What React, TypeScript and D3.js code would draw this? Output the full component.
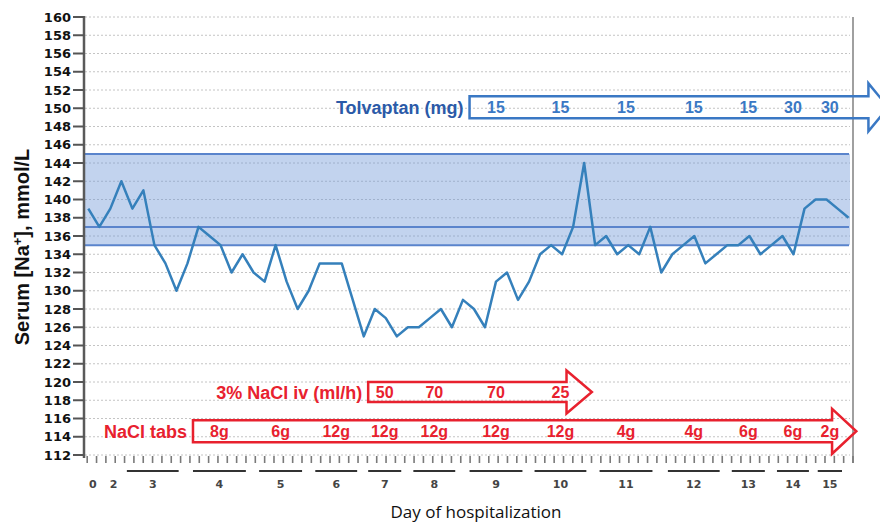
import * as d3 from "d3";
import React, { useEffect, useRef } from "react";

// serum sodium, one reading per sample (mmol/L)
const sodium = [
  139, 137, 139, 142, 139, 141, 135, 133, 130, 133,
  137, 136, 135, 132, 134, 132, 131, 135, 131, 128,
  130, 133, 133, 133, 129, 125, 128, 127, 125, 126,
  126, 127, 128, 126, 129, 128, 126, 131, 132, 129,
  131, 134, 135, 134, 137, 144, 135, 136, 134, 135,
  134, 137, 132, 134, 135, 136, 133, 134, 135, 135,
  136, 134, 135, 136, 134, 139, 140, 140, 139, 138,
];

// day groups, in sample index units
const dayLabels = ["0", "2", "3", "4", "5", "6", "7", "8", "9", "10", "11", "12", "13", "14", "15"];
const dayStart = [0.4, 2.3, 3.5, 9.5, 15.5, 20.6, 25.4, 29.5, 34.6, 40.5, 46.4, 52.6, 58.4, 62.5, 66.2];
const dayEnd = [0.4, 2.3, 8.2, 14.3, 19.4, 24.4, 28.4, 33.3, 39.4, 45.2, 51.2, 57.3, 61.4, 65.4, 68.4];

const yTicks = d3.range(112, 161, 2);
const normalLow = 135;
const normalHigh = 145;
const normalMid = 137;

const tolvaptanDays = ["9", "10", "11", "12", "13", "14", "15"];
const tolvaptanDoses = ["15", "15", "15", "15", "15", "30", "30"];
const ivDays = ["7", "8", "9", "10"];
const ivRates = ["50", "70", "70", "25"];
const tabsDays = ["4", "5", "6", "7", "8", "9", "10", "11", "12", "13", "14", "15"];
const tabsDoses = ["8g", "6g", "12g", "12g", "12g", "12g", "12g", "4g", "4g", "6g", "6g", "2g"];

const BLUE = "#3a78c4";
const NAVY = "#2b5aa8";
const RED = "#e8212e";
const ARIAL = "'Liberation Sans', Arial, sans-serif";
const WIDE = "'DejaVu Sans', sans-serif";

const plot = (el: SVGSVGElement) => {
  const svg = d3.select(el);
  svg.selectAll("*").remove();

  const left = 85;
  const right = 853;
  const top = 17;
  const bottom = 455;

  const x = d3.scaleLinear().domain([-0.3, 69.4]).range([left, right]);
  const y = d3.scaleLinear().domain([112, 160]).range([bottom, top]);

  const dayCenter = (d: string) => {
    const i = dayLabels.indexOf(d);
    return x((dayStart[i] + dayEnd[i]) / 2);
  };

  // grid
  svg.append("g")
    .selectAll("line")
    .data(yTicks)
    .join("line")
    .attr("x1", left)
    .attr("x2", 850)
    .attr("y1", (d) => y(d))
    .attr("y2", (d) => y(d))
    .attr("stroke", "#c4c4c4")
    .attr("stroke-width", 1)
    .attr("stroke-dasharray", "2,2");

  // normal range band
  svg.append("rect")
    .attr("x", left)
    .attr("width", 850 - left)
    .attr("y", y(normalHigh))
    .attr("height", y(normalLow) - y(normalHigh))
    .attr("fill", "rgba(110,150,215,0.42)");

  svg.append("g")
    .selectAll("line")
    .data([normalHigh, normalMid, normalLow])
    .join("line")
    .attr("x1", left)
    .attr("x2", 849)
    .attr("y1", (d) => y(d))
    .attr("y2", (d) => y(d))
    .attr("stroke", "#5a84cc")
    .attr("stroke-width", 2);

  // right border
  svg.append("line")
    .attr("x1", right).attr("x2", right)
    .attr("y1", top).attr("y2", 463)
    .attr("stroke", "#a0a0a0")
    .attr("stroke-width", 2);

  // sodium line
  const line = d3.line<number>()
    .x((_, i) => x(i))
    .y((d) => y(d));

  svg.append("path")
    .attr("d", line(sodium))
    .attr("fill", "none")
    .attr("stroke", "#3580bb")
    .attr("stroke-width", 2.5)
    .attr("stroke-linejoin", "round");

  // y axis
  svg.append("line")
    .attr("x1", 84).attr("x2", 84)
    .attr("y1", top - 1).attr("y2", bottom + 3)
    .attr("stroke", "#5a5a5a")
    .attr("stroke-width", 2.5);

  const yAxis = svg.append("g");
  yAxis.selectAll("line")
    .data(yTicks)
    .join("line")
    .attr("x1", 73)
    .attr("x2", 84)
    .attr("y1", (d) => y(d))
    .attr("y2", (d) => y(d))
    .attr("stroke", "#555")
    .attr("stroke-width", 2);
  yAxis.selectAll("text")
    .data(yTicks)
    .join("text")
    .attr("x", 71)
    .attr("y", (d) => y(d))
    .attr("dy", "0.36em")
    .attr("text-anchor", "end")
    .attr("font-family", WIDE)
    .attr("font-weight", "bold")
    .attr("font-size", 13)
    .attr("fill", "#111")
    .text((d) => d);

  svg.append("text")
    .attr("transform", `translate(29,247) rotate(-90)`)
    .attr("text-anchor", "middle")
    .attr("font-family", ARIAL)
    .attr("font-weight", "bold")
    .attr("font-size", 20)
    .attr("fill", "#111")
    .text("Serum [Na")
    .call((t) => {
      t.append("tspan").attr("dy", -7).attr("font-size", 13).text("+");
      t.append("tspan").attr("dy", 7).text("], mmol/L");
    });

  // x minor ticks
  const tickStep = 69.5 / 82;
  svg.append("g")
    .selectAll("line")
    .data(d3.range(0, 83).map((k) => -0.1 + k * tickStep))
    .join("line")
    .attr("x1", (d) => x(d))
    .attr("x2", (d) => x(d))
    .attr("y1", 456)
    .attr("y2", 463)
    .attr("stroke", "#7a7a7a")
    .attr("stroke-width", 1.6);

  // day underlines and labels
  svg.append("g")
    .selectAll("line")
    .data(dayLabels.filter((_, i) => dayEnd[i] > dayStart[i]))
    .join("line")
    .attr("x1", (d) => x(dayStart[dayLabels.indexOf(d)]))
    .attr("x2", (d) => x(dayEnd[dayLabels.indexOf(d)]))
    .attr("y1", 471)
    .attr("y2", 471)
    .attr("stroke", "#333")
    .attr("stroke-width", 2);

  svg.append("g")
    .selectAll("text")
    .data(dayLabels)
    .join("text")
    .attr("x", (d) => dayCenter(d))
    .attr("y", 488)
    .attr("text-anchor", "middle")
    .attr("font-family", WIDE)
    .attr("font-weight", "bold")
    .attr("font-size", 11)
    .attr("fill", "#444")
    .text((d) => d);

  svg.append("text")
    .attr("x", 476)
    .attr("y", 518)
    .attr("text-anchor", "middle")
    .attr("font-family", "'Open Sans', sans-serif")
    .attr("font-size", 17)
    .attr("fill", "#111")
    .text("Day of hospitalization");

  // treatment arrows
  const arrow = d3.line();
  const drawArrow = (
    label: string, days: string[], values: string[], color: string, labelColor: string,
    level: number, headAt: number, tipAt: number, bodyHalf: number, headHalf: number,
  ) => {
    const cy = y(level);
    const x0 = x(dayStart[dayLabels.indexOf(days[0])]);
    const xb = x(headAt);
    const xt = x(tipAt);
    const g = svg.append("g");
    g.append("path")
      .attr("d", arrow([
        [x0, cy - bodyHalf], [xb, cy - bodyHalf], [xb, cy - headHalf], [xt, cy],
        [xb, cy + headHalf], [xb, cy + bodyHalf], [x0, cy + bodyHalf],
      ]) + "Z")
      .attr("fill", "none")
      .attr("stroke", color)
      .attr("stroke-width", 2.5)
      .attr("stroke-linejoin", "miter");
    g.append("text")
      .attr("x", x0 - 6)
      .attr("y", cy)
      .attr("dy", "0.36em")
      .attr("text-anchor", "end")
      .attr("font-family", ARIAL)
      .attr("font-weight", "bold")
      .attr("font-size", 18)
      .attr("fill", labelColor)
      .text(label);
    g.selectAll("text.v")
      .data(values)
      .join("text")
      .attr("class", "v")
      .attr("x", (_, i) => dayCenter(days[i]))
      .attr("y", cy)
      .attr("dy", "0.36em")
      .attr("text-anchor", "middle")
      .attr("font-family", ARIAL)
      .attr("font-weight", "bold")
      .attr("font-size", 16)
      .attr("fill", color)
      .text((d) => d);
  };

  drawArrow("Tolvaptan (mg)", tolvaptanDays, tolvaptanDoses, BLUE, NAVY, 150.1, 70.8, 72.6, 11, 24);
  drawArrow("3% NaCl iv (ml/h)", ivDays, ivRates, RED, RED, 118.9, 43.4, 45.7, 10, 21.5);
  drawArrow("NaCl tabs", tabsDays, tabsDoses, RED, RED, 114.6, 67.5, 69.7, 11, 22.5);
};

export default function App() {
  const ref = useRef<SVGSVGElement>(null);
  useEffect(() => {
    if (ref.current) plot(ref.current);
  });
  return (
    <svg
      ref={ref}
      width={880}
      height={523}
      style={{ position: "absolute", left: 0, top: 0, background: "#fff" }}
    />
  );
}
